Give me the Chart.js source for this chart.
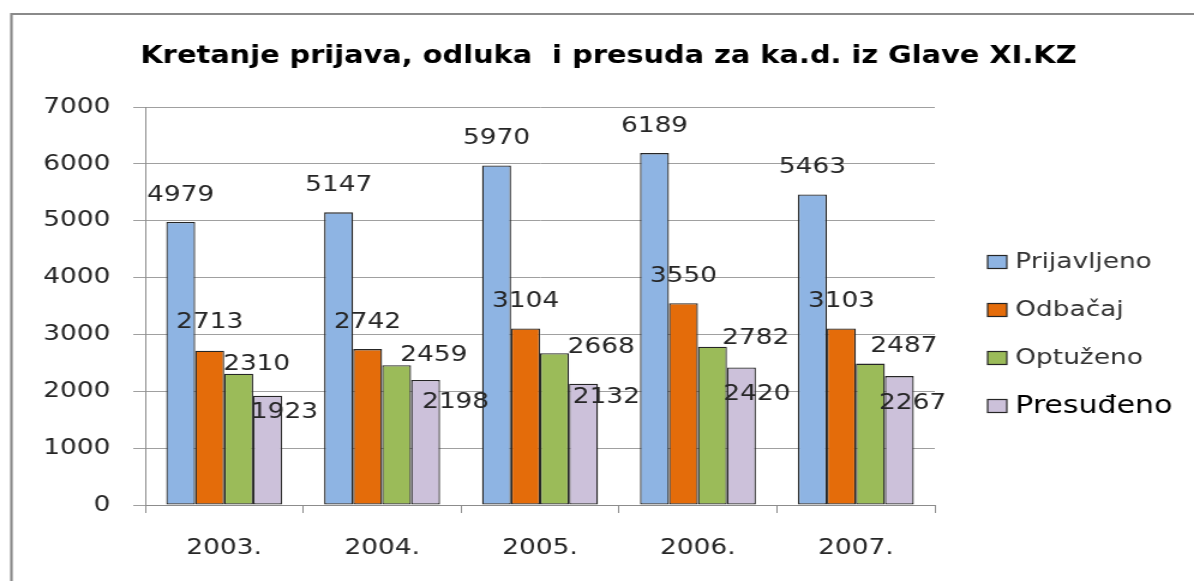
<!DOCTYPE html>
<html>
<head>
<meta charset="utf-8">
<script src="https://cdn.jsdelivr.net/npm/chart.js@4/dist/chart.umd.min.js"></script>
<style>
  html, body { margin: 0; padding: 0; background: #fff; }
</style>
</head>
<body>
<!-- the original picture is stretched sideways, so the canvas is too -->
<canvas id="chart" width="995" height="581" style="display:block;width:1194px;height:581px"></canvas>
<script>
// ─── data ───────────────────────────────────────────────────────────────
const chartTitle = 'Kretanje prijava, odluka  i presuda za ka.d. iz Glave XI.KZ';
const years = ['2003.', '2004.', '2005.', '2006.', '2007.'];
const seriesNames = ['Prijavljeno', 'Odbačaj', 'Optuženo', 'Presuđeno'];
const prijavljeno = [4979, 5147, 5970, 6189, 5463];
const odbacaj = [2713, 2742, 3104, 3550, 3103];
const optuzeno = [2310, 2459, 2668, 2782, 2487];
const presudeno = [1923, 2198, 2132, 2420, 2267];
const yMax = 7000;
const yStep = 1000;

// ─── look ───────────────────────────────────────────────────────────────
const FONT = '"DejaVu Sans", Verdana, sans-serif';
const colors = ['#8eb4e3', '#e46c0a', '#9bbb59', '#ccc1da'];
const ink = '#262626';

// label nudges (canvas px) copied from the hand-placed labels in the original
const labelShift = [
  [[0, -27], [0, -27], [0, -27], [0, -27], [0, -27]],
  [[0, -28], [0, -27], [0, -27], [0, -27], [0, -27]],
  [[15, -9], [31, -10], [39, -6], [36, -9], [28, -17]],
  [[14, 17], [25, 22], [19, 14], [13, 27], [11, 27]]
];

const excelLook = {
  id: 'excelLook',
  beforeDraw(chart) {
    const ctx = chart.ctx;
    ctx.save();
    ctx.fillStyle = '#fff';
    ctx.fillRect(0, 0, chart.width, chart.height);
    // frame (only left and top edges are inside the picture)
    ctx.strokeStyle = '#8a8a8a';
    ctx.lineWidth = 2.2;
    ctx.beginPath();
    ctx.moveTo(9.5, chart.height);
    ctx.lineTo(9.5, 14);
    ctx.lineTo(chart.width, 14);
    ctx.stroke();
    // title
    ctx.fillStyle = '#000';
    ctx.font = 'bold 24px ' + FONT;
    ctx.textAlign = 'center';
    ctx.textBaseline = 'middle';
    ctx.fillText(chartTitle, 507, 57);
    ctx.restore();
  },
  afterDatasetsDraw(chart) {
    const ctx = chart.ctx;
    ctx.save();
    ctx.font = '22px ' + FONT;
    ctx.fillStyle = ink;
    ctx.textAlign = 'center';
    ctx.textBaseline = 'middle';
    chart.data.datasets.forEach((ds, i) => {
      chart.getDatasetMeta(i).data.forEach((bar, j) => {
        const [dx, dy] = labelShift[i][j];
        ctx.fillText(String(ds.data[j]), bar.x + dx, bar.y + dy);
      });
    });
    ctx.restore();
  },
  afterDraw(chart) {
    const ctx = chart.ctx;
    ctx.save();
    const legendY = [262, 310, 358, 406];
    chart.data.datasets.forEach((ds, i) => {
      const y = legendY[i];
      ctx.fillStyle = ds.backgroundColor;
      ctx.fillRect(823, y - 6.5, 16, 13);
      ctx.strokeStyle = ink;
      ctx.lineWidth = 1.2;
      ctx.strokeRect(823, y - 6.5, 16, 13);
      const last = i === chart.data.datasets.length - 1;
      ctx.fillStyle = last ? '#000' : '#333';
      ctx.font = (last ? '25px ' : '22px ') + FONT;
      ctx.textAlign = 'left';
      ctx.textBaseline = 'middle';
      ctx.fillText(ds.label, 846, y);
    });
    ctx.restore();
  }
};

const seriesValues = [prijavljeno, odbacaj, optuzeno, presudeno];

new Chart(document.getElementById('chart'), {
  type: 'bar',
  data: {
    labels: years,
    datasets: seriesNames.map((name, i) => ({
      label: name,
      data: seriesValues[i],
      backgroundColor: colors[i],
      borderColor: ink,
      borderWidth: 1.3,
      borderSkipped: false,
      categoryPercentage: 0.734,
      barPercentage: 1
    }))
  },
  options: {
    responsive: false,
    animation: false,
    devicePixelRatio: 1,
    layout: { padding: { top: 107, right: 216, bottom: 0, left: 0 } },
    plugins: {
      legend: { display: false },
      title: { display: false },
      tooltip: { enabled: false }
    },
    scales: {
      x: {
        afterFit: (s) => { s.height = 76; },
        grid: { offset: true, drawOnChartArea: false, drawTicks: true, tickLength: 8, color: '#8c8c8c' },
        border: { display: true, color: '#8c8c8c', width: 1 },
        ticks: { color: ink, font: { family: FONT, size: 22 }, padding: 22 }
      },
      y: {
        min: 0,
        max: yMax,
        afterFit: (s) => { s.width = 121; },
        grid: { color: '#a0a0a0', tickLength: 10, drawTicks: true },
        border: { display: true, color: '#8c8c8c', width: 1 },
        ticks: {
          stepSize: yStep,
          color: ink,
          font: { family: FONT, size: 22 },
          padding: 19,
          callback: (v) => String(v)
        }
      }
    }
  },
  plugins: [excelLook]
});
</script>
</body>
</html>
